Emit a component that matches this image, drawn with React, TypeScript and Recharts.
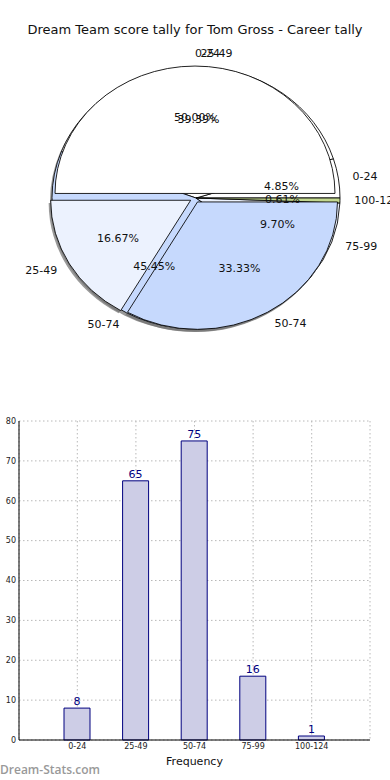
import {
  PieChart,
  Pie,
  Cell,
  BarChart,
  Bar,
  XAxis,
  YAxis,
  CartesianGrid,
  LabelList,
} from 'recharts'

const binLabels = ['0-24', '25-49', '50-74', '75-99', '100-124']
const binCounts = [8, 65, 75, 16, 1]
const overlayLabels = ['0-24', '25-49', '50-74']
const overlayCounts = [3, 1, 2]
const yTicks = [0, 10, 20, 30, 40, 50, 60, 70, 80]

const mainColors = ['#ffffff', '#ffffff', '#c6d9fd', '#ecf2fe', '#c3d88f']
const overlayColors = ['#ffffff', '#ecf2fe', '#c6d9fd']

const FONT = '"DejaVu Sans", sans-serif'
const SY = 0.91 // matplotlib squashed the pie into an ellipse
const RAD = Math.PI / 180

const mainData = binLabels.map((name, i) => ({ name, value: binCounts[i] }))
const overlayData = overlayLabels.map((name, i) => ({ name, value: overlayCounts[i] }))

const mainCx = 196
const mainCy = 198
const mainR = 144
const ovCx = 195
const ovCy = 198
const ovR = 140
const explode = 5
const shadowDx = -2
const shadowDy = 3

// bisector of each slice, for the explode offset
function midAngles(values: number[]) {
  const total = values.reduce((a, b) => a + b, 0)
  let acc = 0
  return values.map((v) => {
    const mid = ((acc + v / 2) / total) * 360
    acc += v
    return mid
  })
}

const ovMids = midAngles(overlayCounts)
const ovCenters = ovMids.map((a) => ({
  x: ovCx + explode * Math.cos(a * RAD),
  y: ovCy - explode * Math.sin(a * RAD),
}))

function makeLabel(show: (i: number) => boolean) {
  return (props: any) => {
    const { cx, cy, midAngle, outerRadius, percent, index, name } = props
    if (!show(index)) return null
    const c = Math.cos(-midAngle * RAD)
    const s = Math.sin(-midAngle * RAD)
    const lx = cx + outerRadius * 1.1 * c
    const ly = cy + outerRadius * 1.1 * s
    const px = cx + outerRadius * 0.6 * c
    const py = cy + outerRadius * 0.6 * s
    return (
      <g>
        <g transform={`translate(${lx},${ly}) scale(1,${1 / SY})`}>
          <text
            x={0}
            y={0}
            textAnchor={c >= 0 ? 'start' : 'end'}
            dominantBaseline="central"
            fontSize={11}
            fontFamily={FONT}
            fill="#111"
          >
            {name}
          </text>
        </g>
        <g transform={`translate(${px},${py}) scale(1,${1 / SY})`}>
          <text
            x={0}
            y={0}
            textAnchor="middle"
            dominantBaseline="central"
            fontSize={11}
            fontFamily={FONT}
            fill="#111"
          >
            {(percent * 100).toFixed(2)}%
          </text>
        </g>
      </g>
    )
  }
}

type Mode = 'shadow' | 'fill' | 'label'

function pieLayer(
  key: string,
  data: Array<{ name: string; value: number }>,
  colors: string[],
  cx: number,
  cy: number,
  r: number,
  visible: (i: number) => boolean,
  mode: Mode
) {
  return (
    <Pie
      key={key}
      data={data}
      dataKey="value"
      nameKey="name"
      cx={mode === 'shadow' ? cx + shadowDx : cx}
      cy={mode === 'shadow' ? cy + shadowDy : cy}
      outerRadius={r}
      startAngle={0}
      endAngle={360}
      isAnimationActive={false}
      labelLine={false}
      label={mode === 'label' ? makeLabel(visible) : false}
    >
      {data.map((_, i) => {
        const on = visible(i) && mode !== 'label'
        return (
          <Cell
            key={i}
            fill={on ? (mode === 'shadow' ? '#6e6e6e' : colors[i]) : 'none'}
            fillOpacity={mode === 'shadow' ? 0.7 : 1}
            stroke={on && mode === 'fill' ? '#000' : 'none'}
            strokeWidth={0.9}
          />
        )
      })}
    </Pie>
  )
}

const all = () => true

export default function App() {
  return (
    <div
      style={{
        position: 'absolute',
        left: 0,
        top: 0,
        width: 390,
        height: 780,
        background: '#fff',
        fontFamily: FONT,
        overflow: 'hidden',
      }}
    >
      <div
        style={{
          position: 'absolute',
          left: 0,
          top: 22,
          width: 390,
          textAlign: 'center',
          fontSize: 13,
          color: '#111',
        }}
      >
        Dream Team score tally for Tom Gross - Career tally
      </div>

      <div
        style={{
          position: 'absolute',
          left: 0,
          top: 0,
          width: 390,
          height: 380,
          transform: `scaleY(${SY})`,
          transformOrigin: `195px ${mainCy}px`,
        }}
      >
        <PieChart width={390} height={380} margin={{ top: 0, right: 0, bottom: 0, left: 0 }}>
          {pieLayer('ms', mainData, mainColors, mainCx, mainCy, mainR, all, 'shadow')}
          {ovCenters.map((p, k) =>
            pieLayer('os' + k, overlayData, overlayColors, p.x, p.y, ovR, (i) => i === k, 'shadow')
          )}
          {pieLayer('mf', mainData, mainColors, mainCx, mainCy, mainR, all, 'fill')}
          {ovCenters.map((p, k) =>
            pieLayer('of' + k, overlayData, overlayColors, p.x, p.y, ovR, (i) => i === k, 'fill')
          )}
          {pieLayer('ml', mainData, mainColors, mainCx, mainCy, mainR, all, 'label')}
          {ovCenters.map((p, k) =>
            pieLayer('ol' + k, overlayData, overlayColors, p.x, p.y, ovR, (i) => i === k, 'label')
          )}
        </PieChart>
      </div>

      <div style={{ position: 'absolute', left: 0, top: 405 }}>
        <BarChart
          width={390}
          height={375}
          data={mainData}
          margin={{ top: 16, right: 20, bottom: 10, left: 0 }}
        >
          <CartesianGrid stroke="#b8b8b8" strokeDasharray="1.5 2.5" />
          <XAxis
            dataKey="name"
            padding={{ left: 29, right: 29 }}
            interval={0}
            tickLine={false}
            tickSize={0}
            tickMargin={3}
            axisLine={{ stroke: '#000' }}
            tick={{ fontSize: 8, fill: '#222', fontFamily: FONT }}
            height={30}
            label={{
              value: 'Frequency',
              position: 'insideBottom',
              offset: 5,
              fontSize: 11,
              fill: '#111',
              fontFamily: FONT,
            }}
          />
          <XAxis
            xAxisId="top"
            orientation="top"
            dataKey="name"
            tick={false}
            tickLine={false}
            axisLine={{ stroke: '#000' }}
            height={0}
          />
          <YAxis
            domain={[0, 80]}
            ticks={yTicks}
            width={19}
            tickLine={false}
            tickSize={0}
            tickMargin={3}
            axisLine={{ stroke: '#000' }}
            tick={{ fontSize: 8, fill: '#222', fontFamily: FONT }}
          />
          <YAxis
            yAxisId="right"
            orientation="right"
            domain={[0, 80]}
            tick={false}
            tickLine={false}
            width={0}
            axisLine={{ stroke: '#000' }}
          />
          <Bar
            dataKey="value"
            barSize={26}
            fill="#cdcde6"
            stroke="#00007f"
            strokeWidth={1}
            isAnimationActive={false}
          >
            <LabelList
              dataKey="value"
              position="top"
              offset={3}
              fill="#00007f"
              fontSize={11}
              fontFamily={FONT}
            />
          </Bar>
        </BarChart>
      </div>

      <div
        style={{
          position: 'absolute',
          left: 0,
          top: 761,
          fontFamily: '"Open Sans", sans-serif',
          fontWeight: 600,
          fontSize: 12,
          color: '#999',
        }}
      >
        Dream-Stats.com
      </div>
    </div>
  )
}
